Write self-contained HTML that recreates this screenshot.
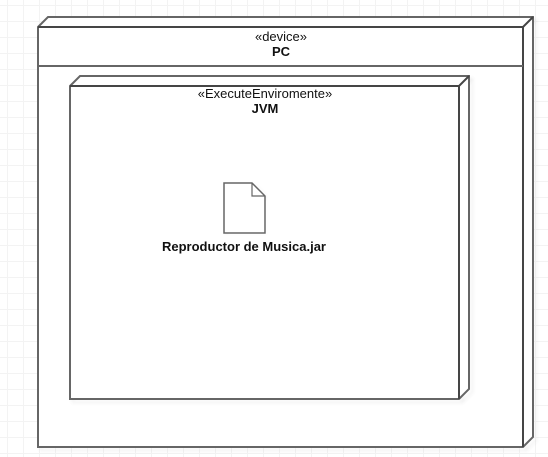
<!DOCTYPE html>
<html><head><style>
html,body{margin:0;padding:0;}
body{width:548px;height:457px;overflow:hidden;background:#fff;
background-image:linear-gradient(#f3f3f3 1px,transparent 1px),linear-gradient(90deg,#f3f3f3 1px,transparent 1px);
background-size:16px 16px;background-position:7px 5px;}
svg{position:absolute;left:0;top:0;}
text{font-family:"Liberation Sans",Arial,sans-serif;font-size:13px;fill:#111;}
</style></head><body>
<svg width="548" height="457" viewBox="0 0 548 457">
<defs><filter id="sh" x="-5%" y="-5%" width="110%" height="110%"><feOffset dx="3" dy="3"/><feGaussianBlur stdDeviation="1.5"/><feComponentTransfer><feFuncA type="linear" slope="0.12"/></feComponentTransfer><feMerge><feMergeNode/><feMergeNode in="SourceGraphic"/></feMerge></filter></defs>
<g filter="url(#sh)">
<path d="M38,27 L48,17 L533,17 L533,437 L523,447 L38,447 Z" fill="#fff" stroke="#666" stroke-width="2"/>
<path d="M38,27 L523,27 L533,17 M523,27 L523,447" fill="none" stroke="#444" stroke-width="2"/>
<line x1="38" y1="66" x2="523" y2="66" stroke="#666" stroke-width="2"/>
</g>
<text x="281" y="41" text-anchor="middle">«device»</text>
<text x="281" y="56" text-anchor="middle" font-weight="bold">PC</text>
<g filter="url(#sh)">
<path d="M70,86 L80,76 L469,76 L469,389 L459,399 L70,399 Z" fill="#fff" stroke="#666" stroke-width="2"/>
<path d="M70,86 L459,86 L469,76 M459,86 L459,399" fill="none" stroke="#444" stroke-width="2"/>
</g>
<text x="265" y="98" text-anchor="middle">«ExecuteEnviromente»</text>
<text x="265" y="113" text-anchor="middle" font-weight="bold">JVM</text>
<g filter="url(#sh)">
<path d="M224,183 L252,183 L265,196 L265,233 L224,233 Z" fill="#fff" stroke="#666" stroke-width="1.5"/>
<path d="M252,183 L252,196 L265,196" fill="none" stroke="#666" stroke-width="1.2"/>
</g>
<text x="244" y="251" text-anchor="middle" font-weight="bold">Reproductor de Musica.jar</text>
</svg>
</body></html>
